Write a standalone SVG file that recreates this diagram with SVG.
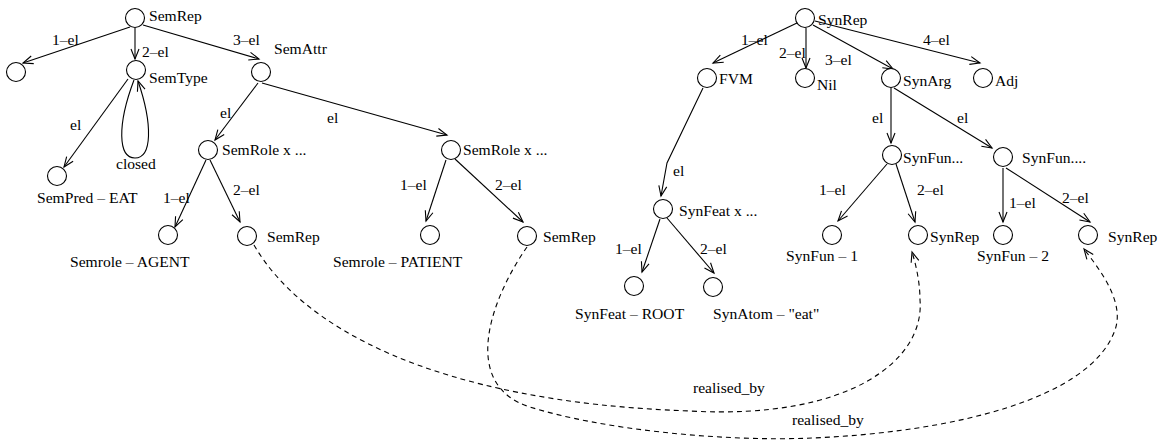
<svg xmlns="http://www.w3.org/2000/svg" width="1162" height="445" viewBox="0 0 1162 445">
<style>
text{font-family:"Liberation Serif","Times New Roman",serif;font-size:15.6px;fill:#000}
circle{fill:#fff;stroke:#000;stroke-width:1.1}
.e{fill:none;stroke:#000;stroke-width:1.1;marker-end:url(#ah)}
.d{fill:none;stroke:#000;stroke-width:1.1;stroke-dasharray:5,4;marker-end:url(#ah)}
</style>
<defs>
<marker id="ah" markerUnits="userSpaceOnUse" markerWidth="12" markerHeight="10" refX="10" refY="4" orient="auto" overflow="visible">
<path d="M0,0 L10,4 L0,8" fill="none" stroke="#000" stroke-width="1.1"/>
</marker>
</defs>
<rect width="1162" height="445" fill="#fff"/>
<g id="connectors">
<path class="e" d="M130,27 L23,63"/>
<path class="e" d="M135,28 L135,59"/>
<path class="e" d="M143,25 L259,59"/>
<path class="e" d="M128,79 L64,167"/>
<path class="e" d="M134,80 C117,125 118,158 135,158 C152,158 153,125 138,81"/>
<path class="e" d="M258,83 L215,140"/>
<path class="e" d="M262,83 L447,135"/>
<path class="e" d="M206,160 L175,227"/>
<path class="e" d="M210,160 L240,222"/>
<path class="e" d="M446,160 L426,221"/>
<path class="e" d="M455,159 L523,222"/>
<path class="e" d="M797,23 L713,63"/>
<path class="e" d="M806,28 L806,68"/>
<path class="e" d="M813,25 L893,69"/>
<path class="e" d="M815,21 L980,63"/>
<path class="e" d="M703,88 L667,163 L661,196"/>
<path class="e" d="M891,88 L891,143"/>
<path class="e" d="M894,88 L992,148"/>
<path class="e" d="M660,219 L642,272"/>
<path class="e" d="M667,218 L714,273"/>
<path class="e" d="M887,164 L838,221"/>
<path class="e" d="M896,164 L915,222"/>
<path class="e" d="M1003,168 L1003,222"/>
<path class="e" d="M1006,168 L1090,222"/>
<path class="d" d="M254,245 C300,325 430,402 690,411 C850,420 925,360 920,300 C920,285 917,268 912,252"/>
<path class="d" d="M527,247 C490,300 460,385 530,407 C600,429 720,442 813,438 C950,432 1090,400 1115,330 C1125,302 1100,270 1084,249"/>
<text x="52" y="45">1–el</text>
<text x="142" y="57">2–el</text>
<text x="233" y="45">3–el</text>
<text x="70" y="130">el</text>
<text x="116" y="169">closed</text>
<text x="220" y="118">el</text>
<text x="327" y="123">el</text>
<text x="163" y="203">1–el</text>
<text x="233" y="195">2–el</text>
<text x="400" y="190">1–el</text>
<text x="495" y="190">2–el</text>
<text x="741" y="45">1–el</text>
<text x="779" y="58">2–el</text>
<text x="825" y="65">3–el</text>
<text x="923" y="45">4–el</text>
<text x="673" y="176">el</text>
<text x="872" y="123">el</text>
<text x="957" y="123">el</text>
<text x="615" y="254">1–el</text>
<text x="700" y="254">2–el</text>
<text x="819" y="195">1–el</text>
<text x="917" y="195">2–el</text>
<text x="1009" y="208">1–el</text>
<text x="1062" y="203">2–el</text>
<text x="693" y="393">realised_by</text>
<text x="792" y="425">realised_by</text>
</g>
<g id="n_semrep"><circle cx="135" cy="18" r="9.5"/><text x="149" y="21">SemRep</text></g>
<g id="n_sem1"><circle cx="16" cy="72" r="9.5"/></g>
<g id="n_semtype"><circle cx="136" cy="70" r="9.5"/><text x="149" y="83">SemType</text></g>
<g id="n_semattr"><circle cx="261" cy="72" r="9.5"/><text x="274" y="54">SemAttr</text></g>
<g id="n_sempred"><circle cx="57" cy="176" r="9.5"/><text x="37" y="203">SemPred – EAT</text></g>
<g id="n_semrole1"><circle cx="208" cy="150" r="9.5"/><text x="222" y="155">SemRole x ...</text></g>
<g id="n_semrole2"><circle cx="451" cy="150" r="9.5"/><text x="463" y="155">SemRole x ...</text></g>
<g id="n_agent"><circle cx="168" cy="235" r="9.5"/><text x="70" y="267">Semrole – AGENT</text></g>
<g id="n_semrepA"><circle cx="247" cy="236" r="9.5"/><text x="267" y="242">SemRep</text></g>
<g id="n_patient"><circle cx="430" cy="235" r="9.5"/><text x="333" y="267">Semrole – PATIENT</text></g>
<g id="n_semrepB"><circle cx="527" cy="236" r="9.5"/><text x="543" y="242">SemRep</text></g>
<g id="n_synrep"><circle cx="805" cy="18" r="9.5"/><text x="818" y="25">SynRep</text></g>
<g id="n_fvm"><circle cx="707" cy="78" r="9.5"/><text x="719" y="84">FVM</text></g>
<g id="n_nil"><circle cx="805" cy="78" r="9.5"/><text x="817" y="90">Nil</text></g>
<g id="n_synarg"><circle cx="891" cy="78" r="9.5"/><text x="903" y="86">SynArg</text></g>
<g id="n_adj"><circle cx="983" cy="78" r="9.5"/><text x="995" y="86">Adj</text></g>
<g id="n_synfeat"><circle cx="663" cy="209" r="9.5"/><text x="679" y="216">SynFeat x ...</text></g>
<g id="n_synfunA"><circle cx="892" cy="155" r="9.5"/><text x="903" y="163">SynFun...</text></g>
<g id="n_synfunB"><circle cx="1003" cy="157" r="9.5"/><text x="1022" y="163">SynFun....</text></g>
<g id="n_root"><circle cx="634" cy="286" r="9.5"/><text x="575" y="319">SynFeat – ROOT</text></g>
<g id="n_eat"><circle cx="713" cy="287" r="9.5"/><text x="713" y="319">SynAtom – "eat"</text></g>
<g id="n_synfun1"><circle cx="832" cy="235" r="9.5"/><text x="786" y="261">SynFun – 1</text></g>
<g id="n_synrepA"><circle cx="918" cy="235" r="9.5"/><text x="930" y="242">SynRep</text></g>
<g id="n_synfun2"><circle cx="1003" cy="235" r="9.5"/><text x="977" y="261">SynFun – 2</text></g>
<g id="n_synrepB"><circle cx="1088" cy="235" r="9.5"/><text x="1108" y="242">SynRep</text></g>
</svg>
